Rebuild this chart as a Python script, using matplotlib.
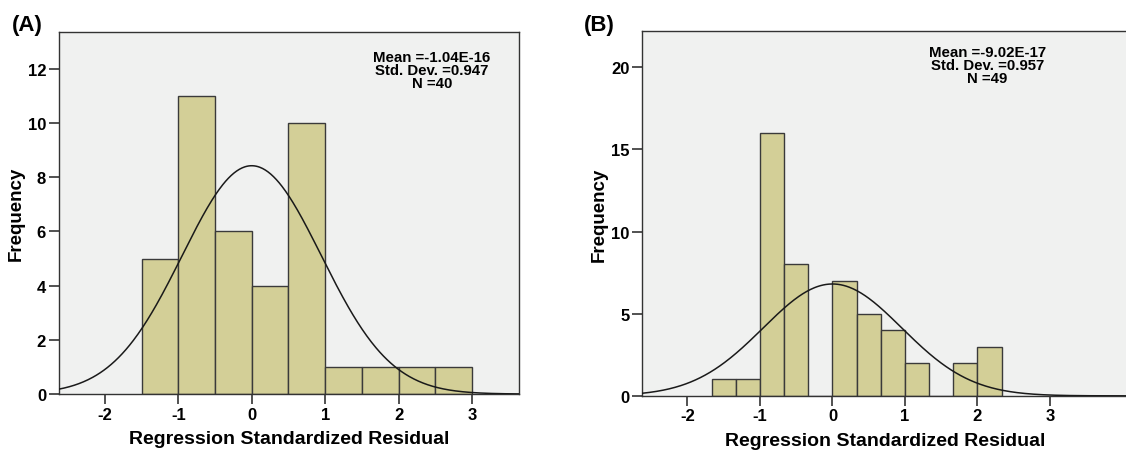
import numpy as np
import matplotlib.pyplot as plt

plt.rcParams['font.family'] = ['Liberation Sans', 'DejaVu Sans']
plt.rcParams['axes.unicode_minus'] = False

# panel A: residual histogram, bin width 0.5
edges_a = [-1.5, -1.0, -0.5, 0.0, 0.5, 1.0, 1.5, 2.0, 2.5, 3.0]
counts_a = [5, 11, 6, 4, 10, 1, 1, 1, 1]
mean_a, sd_a, n_a = -1.04e-16, 0.947, 40

# panel B: residual histogram, bin width 1/3
edges_b = [-5/3, -4/3, -1.0, -2/3, -1/3, 0.0, 1/3, 2/3, 1.0, 4/3, 5/3, 2.0, 7/3]
counts_b = [1, 1, 16, 8, 0, 7, 5, 4, 2, 0, 2, 3]
mean_b, sd_b, n_b = -9.02e-17, 0.957, 49

bar_color = '#d3cf97'
bg_color = '#f0f1f0'


def panel(ax, edges, counts, mean, sd, n, stats, stats_xy, xlim, ylim, yticks):
    edges = np.array(edges)
    width = np.diff(edges)
    ax.set_facecolor(bg_color)
    ax.bar(edges[:-1], counts, width=width, align='edge',
           color=bar_color, edgecolor='#3a3a3a', linewidth=1.0, zorder=2)
    # normal curve scaled to counts
    xs = np.linspace(xlim[0], xlim[1], 500)
    bw = width[0]
    ys = n * bw * np.exp(-0.5 * ((xs - mean) / sd) ** 2) / (sd * np.sqrt(2 * np.pi))
    ax.plot(xs, ys, color='#1a1a1a', linewidth=1.1, zorder=3)

    ax.set_xlim(xlim)
    ax.set_ylim(ylim)
    ax.set_xticks([-2, -1, 0, 1, 2, 3])
    ax.set_yticks(yticks)
    ax.tick_params(labelsize=12, width=1.2, length=7, pad=2, color='#333333')
    for t in ax.get_xticklabels() + ax.get_yticklabels():
        t.set_fontweight('bold')
    for s in ax.spines.values():
        s.set_color('#333333')
        s.set_linewidth(1.0)

    ax.set_xlabel('Regression Standardized Residual', fontsize=14,
                  fontweight='bold', labelpad=6)
    ax.set_ylabel('Frequency', fontsize=13.5, fontweight='bold', labelpad=2)
    ax.text(stats_xy[0], stats_xy[1], stats, transform=ax.transAxes,
            ha='center', va='top', fontsize=10.8, fontweight='bold',
            linespacing=0.92)


fig = plt.figure(figsize=(11.26, 4.52), dpi=100)
ax1 = fig.add_axes([0.052, 0.126, 0.409, 0.801])
ax2 = fig.add_axes([0.570, 0.122, 0.432, 0.807])

panel(ax1, edges_a, counts_a, mean_a, sd_a, n_a,
      'Mean =-1.04E-16\nStd. Dev. =0.947\nN =40', (0.811, 0.95),
      (-2.63, 3.64), (0, 13.36), [0, 2, 4, 6, 8, 10, 12])
panel(ax2, edges_b, counts_b, mean_b, sd_b, n_b,
      'Mean =-9.02E-17\nStd. Dev. =0.957\nN =49', (0.71, 0.962),
      (-2.63, 4.08), (0, 22.2), [0, 5, 10, 15, 20])
ax2.spines['right'].set_visible(False)

fig.text(12 / 1126, 1 - 26 / 452, '(A)', ha='left', va='center',
         fontsize=16, fontweight='bold')
fig.text(584 / 1126, 1 - 26 / 452, '(B)', ha='left', va='center',
         fontsize=16, fontweight='bold')

fig.savefig('out.png', dpi=100)
